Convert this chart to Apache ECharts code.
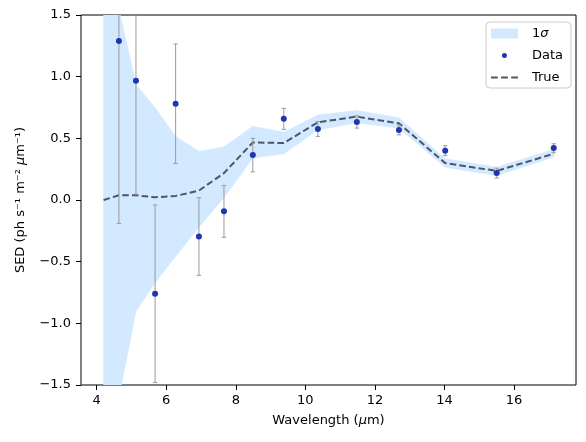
<!DOCTYPE html>
<html>
<head>
<meta charset="utf-8">
<script src="https://cdn.jsdelivr.net/npm/echarts@6/dist/echarts.min.js"></script>
<style>html,body{margin:0;padding:0;background:#fff}#c{width:586px;height:442px}</style>
</head>
<body>
<div id="c"></div>
<script>
// Observed data points
const wavelength = [4.64, 5.13, 5.68, 6.27, 6.94, 7.66, 8.49, 9.38, 10.36, 11.48, 12.69, 14.02, 15.50, 17.14];
const sed        = [1.29, 0.967, -0.76, 0.78, -0.296, -0.092, 0.364, 0.658, 0.576, 0.633, 0.568, 0.40, 0.218, 0.421];
const sedErr     = [1.48, 0.92, 0.72, 0.485, 0.315, 0.21, 0.136, 0.085, 0.06, 0.05, 0.04, 0.04, 0.04, 0.035];
// Model grid: true SED and 1-sigma band
const modelX     = [4.2, 4.64, 5.13, 5.68, 6.27, 6.94, 7.66, 8.49, 9.38, 10.36, 11.48, 12.69, 14.02, 15.50, 17.14];
const trueSed    = [0.0, 0.038, 0.038, 0.022, 0.033, 0.076, 0.218, 0.467, 0.462, 0.63, 0.676, 0.622, 0.299, 0.236, 0.375];
const bandLow    = [-4.0, -1.6, -0.9, -0.673, -0.456, -0.22, 0.02, 0.34, 0.375, 0.57, 0.625, 0.584, 0.266, 0.198, 0.348];
const bandHigh   = [3.0, 1.55, 0.937, 0.747, 0.516, 0.394, 0.43, 0.597, 0.549, 0.69, 0.725, 0.666, 0.334, 0.266, 0.41];
const xTicks     = [4, 6, 8, 10, 12, 14, 16];

const FONT = 'DejaVu Sans';
const bandColor = '#d2e9ff';
const dataColor = '#1f36b4';
const trueColor = '#4c5666';
const errColor = '#9a9a9a';

const chart = echarts.init(document.getElementById('c'), null, {renderer: 'canvas'});
const minus = s => String(s).replace('-', '\u2212');

// band segments: each item joins model point i and i+1
const bandSegs = [];
for (let i = 0; i < modelX.length - 1; i++) {
  bandSegs.push([modelX[i], bandLow[i], bandHigh[i], modelX[i + 1], bandLow[i + 1], bandHigh[i + 1]]);
}

const italic = {fontFamily: FONT, fontSize: 13, fontStyle: 'italic', color: '#000'};

chart.setOption({
  animation: false,
  backgroundColor: '#fff',
  textStyle: {fontFamily: FONT},
  grid: {left: 81, right: 10, top: 15, bottom: 57, show: true, borderColor: '#000', borderWidth: 1, backgroundColor: 'transparent'},
  legend: {
    right: 15, top: 22, orient: 'vertical',
    padding: [5, 8, 4, 5],
    itemGap: 9, itemWidth: 27, itemHeight: 10,
    borderColor: '#cccccc', borderWidth: 1, borderRadius: 4,
    backgroundColor: 'rgba(255,255,255,0.8)',
    textStyle: {fontFamily: FONT, fontSize: 13, color: '#000', padding: [0, 0, 0, 9], rich: {i: italic}},
    formatter: n => n === '1σ' ? '1{i|σ}' : n,
    data: [
      {name: '1σ', icon: 'rect', itemStyle: {color: bandColor}},
      {name: 'Data', icon: 'path://M0,0L0,0M28,10L28,10M14,2.4A2.6,2.6,0,1,1,14,7.6A2.6,2.6,0,1,1,14,2.4Z', itemStyle: {color: dataColor, opacity: 1}},
      {name: 'True', icon: 'path://M0,0L0,0M28,10L28,10M0,4H7V6H0ZM10.5,4H17.5V6H10.5ZM21,4H28V6H21Z', itemStyle: {color: trueColor}}
    ]
  },
  xAxis: {
    type: 'value', min: 3.55, max: 17.78,
    name: 'Wavelength ({i|μ}m)', nameLocation: 'middle', nameGap: 29,
    nameTextStyle: {fontFamily: FONT, fontSize: 13, color: '#000', rich: {i: italic}},
    axisLine: {show: false, onZero: false},
    axisTick: {show: true, length: 5, lineStyle: {color: '#000'}, customValues: xTicks},
    axisLabel: {fontFamily: FONT, fontSize: 13, color: '#000', margin: 9, customValues: xTicks, formatter: v => minus(v)},
    splitLine: {show: false}
  },
  yAxis: {
    type: 'value', min: -1.5, max: 1.5, interval: 0.5,
    name: 'SED (ph s⁻¹ m⁻² {i|μ}m⁻¹)', nameLocation: 'middle', nameGap: 54,
    nameTextStyle: {fontFamily: FONT, fontSize: 13, color: '#000', rich: {i: italic}},
    axisLine: {show: false, onZero: false},
    axisTick: {show: true, length: 5, lineStyle: {color: '#000'}},
    axisLabel: {fontFamily: FONT, fontSize: 13, color: '#000', margin: 10, formatter: v => minus(v.toFixed(1))},
    splitLine: {show: false}
  },
  series: [
    {
      name: '1σ', type: 'custom', clip: true, silent: true, z: 1,
      color: bandColor,
      data: bandSegs,
      encode: {x: [0, 3], y: [1, 2, 4, 5]},
      renderItem: (params, api) => {
        const a1 = api.coord([api.value(0), api.value(1)]);
        const a2 = api.coord([api.value(0), api.value(2)]);
        const b1 = api.coord([api.value(3), api.value(4)]);
        const b2 = api.coord([api.value(3), api.value(5)]);
        const cs = params.coordSys;
        return {
          type: 'polygon',
          shape: {points: [a1, b1, b2, a2]},
          style: {fill: bandColor, stroke: bandColor, lineWidth: 0.6},
          clipPath: {type: 'rect', shape: {x: cs.x, y: cs.y, width: cs.width, height: cs.height}}
        };
      }
    },
    {
      name: 'True', type: 'line',
      data: modelX.map((x, i) => [x, trueSed[i]]),
      symbol: 'none', color: trueColor,
      lineStyle: {color: trueColor, width: 2, type: [6.5, 3.2]}, z: 3, clip: true
    },
    {
      name: 'errbar', type: 'custom',
      data: wavelength.map((x, i) => [x, sed[i] - sedErr[i], sed[i] + sedErr[i]]),
      encode: {x: 0, y: [1, 2]},
      z: 4,
      renderItem: (params, api) => {
        const x = api.value(0), lo = api.value(1), hi = api.value(2);
        const pLo = api.coord([x, lo]), pHi = api.coord([x, hi]);
        const cs = params.coordSys;
        const top = cs.y, bot = cs.y + cs.height;
        const yHi = Math.max(pHi[1], top), yLo = Math.min(pLo[1], bot);
        const st = {stroke: errColor, lineWidth: 1};
        const ch = [{type: 'line', shape: {x1: pLo[0], y1: yLo, x2: pLo[0], y2: yHi}, style: st}];
        if (pHi[1] >= top) ch.push({type: 'line', shape: {x1: pHi[0] - 2.2, y1: pHi[1], x2: pHi[0] + 2.2, y2: pHi[1]}, style: st});
        if (pLo[1] <= bot) ch.push({type: 'line', shape: {x1: pLo[0] - 2.2, y1: pLo[1], x2: pLo[0] + 2.2, y2: pLo[1]}, style: st});
        return {type: 'group', children: ch};
      }
    },
    {
      name: 'Data', type: 'scatter',
      data: wavelength.map((x, i) => [x, sed[i]]),
      symbol: 'circle', symbolSize: 6, color: dataColor,
      itemStyle: {color: dataColor, opacity: 1}, z: 5
    }
  ]
});
</script>
</body>
</html>
